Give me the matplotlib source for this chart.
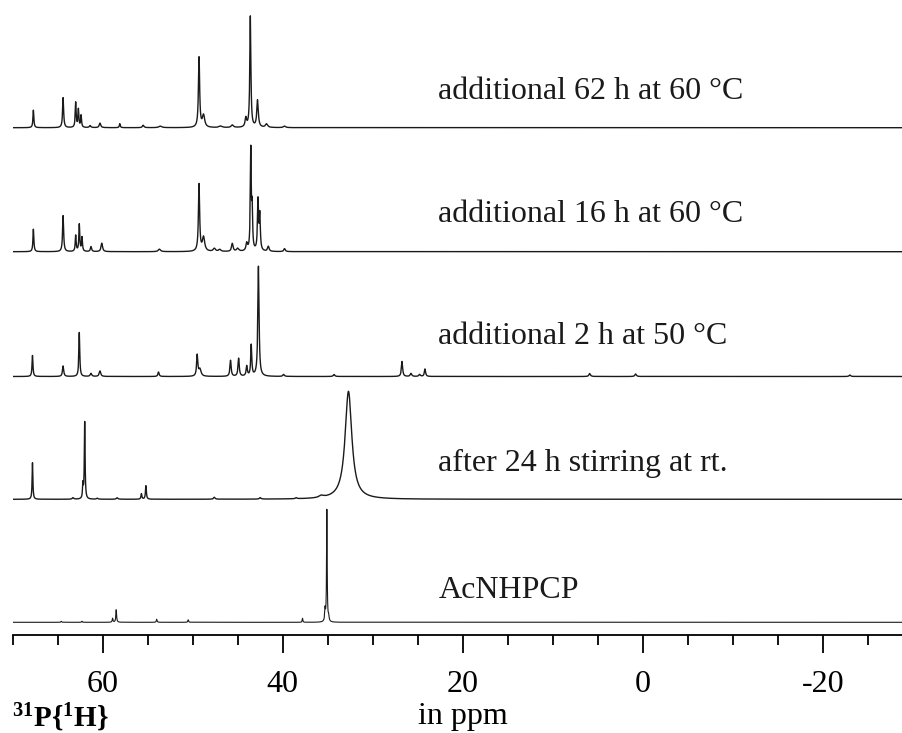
import numpy as np
import matplotlib
matplotlib.use("Agg")
import matplotlib.pyplot as plt
from matplotlib.ticker import MultipleLocator, FixedLocator

plt.rcParams['font.family'] = ['Liberation Serif', 'DejaVu Serif']
plt.rcParams['mathtext.fontset'] = 'custom'
plt.rcParams['mathtext.rm'] = 'Liberation Serif'
plt.rcParams['mathtext.bf'] = 'Liberation Serif:bold'
plt.rcParams['axes.unicode_minus'] = False

# --- peak lists: shift (ppm), height, half width (ppm) ---
labels = ["additional 62 h at 60 \u00b0C",
          "additional 16 h at 60 \u00b0C",
          "additional 2 h at 50 \u00b0C",
          "after 24 h stirring at rt.",
          "AcNHPCP"]

shift_62h = [67.7, 64.4, 63.0, 62.7, 62.4, 61.4, 60.3, 58.1, 55.5, 53.6, 49.3, 48.8,
             46.9, 45.6, 44.1, 43.6, 42.8, 41.8, 39.8]
height_62h = [17.5, 30, 25, 18, 12, 2, 4.5, 4, 2.5, 1.5, 70, 12,
              1.5, 2.5, 9, 111, 27, 3.5, 1.5]
width_62h = [0.06, 0.07, 0.06, 0.06, 0.06, 0.1, 0.1, 0.06, 0.1, 0.2, 0.08, 0.15,
             0.2, 0.15, 0.1, 0.07, 0.1, 0.15, 0.15]

shift_16h = [67.7, 64.4, 63.0, 62.6, 62.3, 61.3, 60.1, 53.7, 49.3, 48.8, 47.6, 47.0,
             45.6, 45.0, 44.0, 43.55, 43.4, 42.75, 42.55, 41.6, 39.8]
height_16h = [22.5, 36, 16, 27, 14, 5, 8.5, 2.5, 67, 14, 3, 2,
              8, 3, 7.5, 100, 40, 50, 35, 5, 3]
width_16h = [0.06, 0.07, 0.06, 0.06, 0.06, 0.08, 0.1, 0.15, 0.08, 0.15, 0.15, 0.15,
             0.1, 0.15, 0.1, 0.06, 0.06, 0.07, 0.07, 0.1, 0.1]

shift_2h = [67.8, 64.4, 62.6, 61.3, 60.3, 53.8, 49.5, 49.2, 45.8, 44.9, 44.0, 43.5,
            42.7, 39.9, 34.3, 26.75, 25.75, 24.8, 24.2, 5.9, 0.8, -23.0]
height_2h = [21, 10.5, 44, 3, 5.5, 4.5, 21, 7, 16, 18, 10, 31,
             110, 2, 2, 15, 3, 2, 7.5, 3, 2.5, 1.5]
width_2h = [0.06, 0.08, 0.06, 0.1, 0.1, 0.08, 0.08, 0.15, 0.08, 0.08, 0.08, 0.07,
            0.08, 0.1, 0.1, 0.08, 0.1, 0.1, 0.08, 0.1, 0.1, 0.1]

shift_24h = [67.8, 63.3, 62.2, 62.0, 60.6, 58.4, 55.7, 55.2, 47.6, 42.5, 38.5, 35.7, 32.7]
height_24h = [36.5, 1.5, 14, 77, 1, 1.5, 5.5, 13.5, 2, 1.5, 1, 2, 108]
width_24h = [0.05, 0.1, 0.05, 0.05, 0.1, 0.1, 0.06, 0.06, 0.1, 0.1, 0.1, 0.3, 0.45]

shift_ref = [64.6, 62.3, 58.9, 58.5, 54.0, 50.5, 37.8, 35.3, 35.1, 34.9]
height_ref = [1, 1, 4, 12.5, 3, 2.5, 4, 12, 112, 5]
width_ref = [0.05, 0.05, 0.05, 0.05, 0.05, 0.05, 0.04, 0.05, 0.04, 0.05]

spectra = [(shift_62h, height_62h, width_62h),
           (shift_16h, height_16h, width_16h),
           (shift_2h, height_2h, width_2h),
           (shift_24h, height_24h, width_24h),
           (shift_ref, height_ref, width_ref)]

# layout (figure pixels): trace baselines and label gaps above them
W, H = 903, 733
axis_px = 635
base_px = [127.7, 251.7, 376.5, 499.3, 622.3]
label_gap = [28.4, 30, 32, 28.6, 24.3]
line_w = [1.0, 1.0, 1.0, 1.0, 0.8]

ppm = np.arange(-29.0, 70.0, 0.004)


def lorentz_sum(shifts, heights, widths):
    y = np.zeros_like(ppm)
    for s, h, g in zip(shifts, heights, widths):
        y += h / (1 + ((ppm - s) / g) ** 2)
    return y


fig = plt.figure(figsize=(W / 100, H / 100), dpi=100)
ax = fig.add_axes([12.7 / W, 1 - axis_px / H, 1 - 12.7 / W, axis_px / H])
ax.set_xlim(70, -28.9)
ax.set_ylim(0, axis_px)

for i, (s, h, g) in enumerate(spectra):
    off = axis_px - base_px[i]
    ax.plot(ppm, lorentz_sum(s, h, g) + off, color='#1a1a1a', lw=line_w[i])
    ax.text(22.7, off + label_gap[i], labels[i], fontsize=23, va='baseline',
            ha='left', color='#1a1a1a')

for side in ['top', 'left', 'right']:
    ax.spines[side].set_visible(False)
ax.spines['bottom'].set_linewidth(1.3)
ax.set_yticks([])
ax.xaxis.set_major_locator(FixedLocator([60, 40, 20, 0, -20]))
ax.xaxis.set_minor_locator(MultipleLocator(5))
ax.tick_params(axis='x', which='major', direction='out', length=13, width=1.3,
               labelsize=23, pad=12)
ax.tick_params(axis='x', which='minor', direction='out', length=7, width=1.3)
ax.patch.set_alpha(0)

fig.text(462.5 / W, 1 - 724 / H, "in ppm", fontsize=23, ha='center', va='baseline')
fig.text(12 / W, 1 - 727 / H, r"$\mathbf{^{31}P\{^{1}H\}}$", fontsize=21,
         ha='left', va='baseline')

fig.savefig("out.png", dpi=100)
